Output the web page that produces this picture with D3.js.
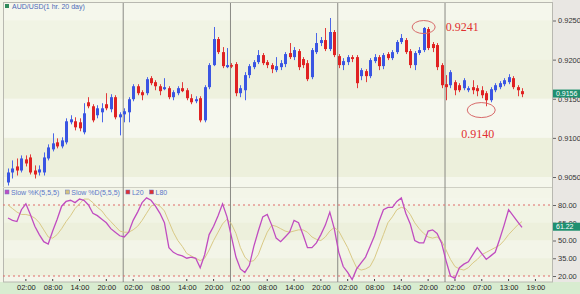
<!DOCTYPE html>
<html><head><meta charset="utf-8">
<script src="https://cdn.jsdelivr.net/npm/d3@7"></script>
<style>body{margin:0;background:#fff}svg{display:block}</style>
</head><body><svg id="c" width="580" height="294"></svg>
<script>
// ---- DATA ----
const open = [0.90430,0.90558,0.90635,0.90583,0.90725,0.90750,0.90583,0.90558,0.90558,0.90737,0.90853,0.90943,0.90891,0.90943,0.91199,0.91212,0.91199,0.91071,0.91455,0.91404,0.91289,0.91327,0.91430,0.91366,0.91520,0.91263,0.91301,0.91327,0.91494,0.91660,0.91584,0.91571,0.91763,0.91712,0.91660,0.91622,0.91635,0.91520,0.91571,0.91635,0.91609,0.91507,0.91468,0.91507,0.91224,0.91648,0.91930,0.92263,0.92096,0.91904,0.91930,0.91943,0.91571,0.91609,0.91802,0.91904,0.91968,0.92058,0.91968,0.91930,0.91866,0.91904,0.91943,0.92084,0.92032,0.92109,0.92007,0.91955,0.91776,0.92096,0.92212,0.92250,0.92135,0.92353,0.92045,0.91930,0.91968,0.92032,0.92032,0.91789,0.91853,0.91789,0.91981,0.92032,0.91917,0.92071,0.92019,0.92096,0.92225,0.92250,0.92109,0.91930,0.92084,0.92122,0.92391,0.92199,0.92186,0.91930,0.91686,0.91673,0.91712,0.91673,0.91635,0.91609,0.91648,0.91635,0.91609,0.91571,0.91481,0.91609,0.91648,0.91686,0.91712,0.91763,0.91648,0.91597];
const high = [0.90609,0.90712,0.90737,0.90776,0.90776,0.90789,0.90648,0.90648,0.90814,0.90917,0.91058,0.90994,0.91007,0.91250,0.91289,0.91263,0.91250,0.91443,0.91520,0.91430,0.91417,0.91443,0.91571,0.91558,0.91545,0.91327,0.91378,0.91520,0.91686,0.91686,0.91609,0.91776,0.91789,0.91737,0.91686,0.91763,0.91660,0.91609,0.91660,0.91712,0.91635,0.91558,0.91532,0.91532,0.91673,0.91955,0.92417,0.92289,0.92160,0.92148,0.91955,0.91968,0.91673,0.91840,0.91943,0.91994,0.92122,0.92084,0.91994,0.91955,0.92032,0.91994,0.92096,0.92212,0.92160,0.92135,0.92032,0.91994,0.92148,0.92340,0.92289,0.92404,0.92532,0.92378,0.92071,0.92019,0.92058,0.92058,0.92058,0.91891,0.91878,0.92019,0.92071,0.92058,0.92084,0.92096,0.92122,0.92250,0.92327,0.92276,0.92135,0.92109,0.92160,0.92417,0.92417,0.92225,0.92212,0.91955,0.91802,0.91866,0.91737,0.91699,0.91763,0.91660,0.91737,0.91673,0.91660,0.91597,0.91648,0.91699,0.91725,0.91763,0.91814,0.91789,0.91673,0.91635];
const low = [0.90391,0.90481,0.90519,0.90558,0.90635,0.90532,0.90481,0.90519,0.90519,0.90712,0.90827,0.90866,0.90866,0.90917,0.91173,0.91096,0.91084,0.91045,0.91378,0.91199,0.91250,0.91199,0.91353,0.91327,0.91237,0.91032,0.91199,0.91199,0.91468,0.91545,0.91481,0.91545,0.91673,0.91609,0.91545,0.91609,0.91494,0.91481,0.91545,0.91584,0.91481,0.91430,0.91443,0.91199,0.91199,0.91622,0.91917,0.92071,0.91891,0.91891,0.91891,0.91532,0.91520,0.91481,0.91763,0.91878,0.91943,0.91930,0.91891,0.91827,0.91840,0.91866,0.91904,0.92007,0.91994,0.91866,0.91891,0.91725,0.91750,0.92071,0.92173,0.92109,0.92109,0.92032,0.91891,0.91866,0.91930,0.91968,0.91635,0.91737,0.91712,0.91763,0.91955,0.91866,0.91878,0.91994,0.91994,0.92071,0.92199,0.92071,0.91891,0.91866,0.92058,0.92096,0.92122,0.92096,0.91866,0.91635,0.91481,0.91635,0.91545,0.91584,0.91609,0.91584,0.91558,0.91532,0.91507,0.91404,0.91455,0.91584,0.91622,0.91660,0.91686,0.91622,0.91532,0.91520];
const close = [0.90558,0.90609,0.90583,0.90737,0.90673,0.90558,0.90532,0.90597,0.90750,0.90878,0.90930,0.90891,0.90968,0.91212,0.91237,0.91135,0.91122,0.91314,0.91404,0.91224,0.91378,0.91378,0.91378,0.91520,0.91263,0.91301,0.91340,0.91494,0.91660,0.91571,0.91545,0.91750,0.91699,0.91660,0.91597,0.91648,0.91520,0.91584,0.91635,0.91597,0.91507,0.91455,0.91494,0.91224,0.91648,0.91930,0.92263,0.92096,0.91917,0.91930,0.91917,0.91571,0.91635,0.91802,0.91917,0.91968,0.92058,0.91955,0.91930,0.91878,0.91917,0.91955,0.92071,0.92032,0.92122,0.91904,0.91930,0.91750,0.92122,0.92212,0.92250,0.92135,0.92353,0.92058,0.91930,0.91981,0.92032,0.92007,0.91699,0.91866,0.91789,0.91994,0.92032,0.91917,0.92058,0.92019,0.92096,0.92225,0.92276,0.92096,0.91930,0.92084,0.92122,0.92404,0.92148,0.92148,0.91904,0.91673,0.91648,0.91840,0.91609,0.91609,0.91737,0.91635,0.91609,0.91597,0.91545,0.91481,0.91622,0.91673,0.91699,0.91737,0.91776,0.91648,0.91609,0.91558];
const slowK = [69,67,66,76,81,72,62,55,49,47,58,68,79,83,84,82,85,84,80,73,71,68,65,60,57,54,53,57,67,74,82,86,84,79,73,65,44,40,38,37,35,36,35,27,38,55,62,71,81,70,53,36,26,23,29,45,58,70,72,63,52,49,53,57,67,65,55,44,44,48,55,63,74,60,40,28,23,17,26,31,36,45,54,66,76,78,78,83,86,73,64,50,48,48,58,59,56,48,33,20,18,27,30,32,38,44,39,34,37,40,51,63,76,71,66,61];
const slowD = [80,77,74,72,72,71,69,65,59,53,52,55,60,66,71,77,81,85,85,82,78,75,70,66,62,58,57,57,59,62,67,73,79,81,79,75,66,57,50,45,39,37,35,33,35,42,50,57,64,68,64,56,44,36,32,33,38,48,57,63,62,60,58,57,58,59,59,57,53,51,50,53,58,61,58,51,44,35,27,25,26,28,35,45,55,65,70,76,78,77,72,65,60,56,53,52,53,50,42,34,28,26,25,27,31,34,38,40,42,44,46,50,55,59,63,66];
const priceTicks = [0.9250,0.9200,0.9150,0.9100,0.9050];
const oscTicks = [80,65,50,35,20];
const timeTickIdx = [4,10,16,22,28,34,40,46,52,58,64,70,76,82,88,94,100,106,112,118];
const timeLabels = ["02:00","08:00","14:00","20:00","02:00","08:00","14:00","20:00","02:00","08:00","14:00","20:00","02:00","08:00","14:00","20:00","02:00","07:00","13:00","19:00"];
const dayStartIdx = [26,50,74,98];
const lastPrice = 0.9156, lastK = 61.22;
const hiNote = {idx:93, price:0.9241, label:"0.9241"};
const loNote = {idx:107, price:0.9140, label:"0.9140"};
const title = "AUD/USD(1 hr.  20 day)";
const legend = [["Slow %K(5,5,5)","#c04cc0"],["Slow %D(5,5,5)","#d6c47e"],["L20","#e03030"],["L80","#e03030"]];

// ---- LAYOUT ----
const svg = d3.select("#c");
const W=580,H=294, plotL=3, plotR=552, mainT=3, mainB=187, oscT=188, oscB=282;
const font = "Liberation Sans, Arial, sans-serif";
const x = d3.scaleLinear().domain([0,115]).range([8,522]);
const y = d3.scaleLinear().domain([0.9050,0.9250]).range([177,20.5]);
const yo = d3.scaleLinear().domain([20,80]).range([276,205]);

svg.append("rect").attr("width",W).attr("height",H).attr("fill","#f3f5e8");
const bands = [[0.9300,0.9250,"#f5f7ec"],[0.9250,0.9200,"#f1f4e4"],[0.9200,0.9150,"#eef1de"],[0.9150,0.9100,"#f6f8ee"],[0.9100,0.9050,"#edf0dc"],[0.9050,0.9000,"#f5f7ec"]];
bands.forEach(b=>{
  const t=Math.max(mainT,y(b[0])), bt=Math.min(mainB,y(b[1]));
  svg.append("rect").attr("x",plotL).attr("y",t).attr("width",plotR-plotL).attr("height",bt-t).attr("fill",b[2]);
});
const oBands=[[100,80,"#f4f6ea"],[80,65,"#f1f4e4"],[65,50,"#edf0dc"],[50,35,"#f3f5e8"],[35,20,"#eef1de"],[20,0,"#f4f6ea"]];
oBands.forEach(b=>{
  const t=Math.max(oscT+10,yo(b[0])), bt=Math.min(oscB,yo(b[1]));
  svg.append("rect").attr("x",plotL).attr("y",t).attr("width",plotR-plotL).attr("height",bt-t).attr("fill",b[2]);
});
svg.append("rect").attr("x",plotR).attr("y",0).attr("width",W-plotR).attr("height",oscB).attr("fill","#e9e7e3");
svg.append("rect").attr("x",0).attr("y",oscB).attr("width",W).attr("height",H-oscB).attr("fill","#d8ecd0");
svg.append("rect").attr("x",plotL+0.5).attr("y",mainT-0.5).attr("width",plotR-plotL).attr("height",oscB-mainT+0.5).attr("fill","none").attr("stroke","#b8b8b0");
svg.append("line").attr("x1",plotL).attr("x2",plotR).attr("y1",mainB+0.5).attr("y2",mainB+0.5).attr("stroke","#cfd0c4");

dayStartIdx.forEach(i=>{
  svg.append("line").attr("x1",x(i)-1).attr("x2",x(i)-1).attr("y1",mainT).attr("y2",oscB).attr("stroke","#8a8a84").attr("stroke-width",1);
});

const g = svg.append("g");
const data = open.map((o,i)=>({i,o,h:high[i],l:low[i],c:close[i]}));
g.selectAll("line.w").data(data).join("line")
 .attr("x1",d=>Math.round(x(d.i))+0.5).attr("x2",d=>Math.round(x(d.i))+0.5)
 .attr("y1",d=>y(d.h)).attr("y2",d=>y(d.l))
 .attr("stroke",d=>d.c>=d.o?"#4a66e8":"#e23a3a").attr("stroke-width",1);
g.selectAll("rect.b").data(data).join("rect")
 .attr("x",d=>Math.round(x(d.i))-1).attr("width",3)
 .attr("y",d=>y(Math.max(d.o,d.c))).attr("height",d=>Math.max(1.5,Math.abs(y(d.o)-y(d.c))))
 .attr("fill",d=>d.c>=d.o?"#3a55e2":"#e02222");

const pa = svg.append("g").attr("transform",`translate(${plotR},0)`)
 .call(d3.axisRight(y).tickValues(priceTicks).tickFormat(d3.format(".4f")).tickSize(3).tickPadding(3));
pa.select(".domain").remove();
pa.selectAll("line").attr("stroke","#666").attr("transform","translate(1,0)");
pa.selectAll("text").attr("font-family",font).attr("font-size",7.5).attr("fill","#333");

const oa = svg.append("g").attr("transform",`translate(${plotR},0)`)
 .call(d3.axisRight(yo).tickValues(oscTicks).tickFormat(d3.format(".2f")).tickSize(3).tickPadding(3));
oa.select(".domain").remove();
oa.selectAll("line").attr("stroke","#666").attr("transform","translate(1,0)");
oa.selectAll("text").attr("font-family",font).attr("font-size",7.5).attr("fill","#333");

function valBox(yy, txt){
  svg.append("rect").attr("x",plotR+1).attr("y",yy-4.5).attr("width",W-plotR-1).attr("height",8).attr("fill","#1f8f6f");
  svg.append("text").attr("x",plotR+4).attr("y",yy+2).attr("font-family",font).attr("font-size",7).attr("fill","#fff").text(txt);
}
valBox(y(lastPrice), d3.format(".4f")(lastPrice));
valBox(yo(lastK), d3.format(".2f")(lastK));

[20,80].forEach(v=>{
  svg.append("line").attr("x1",plotL).attr("x2",plotR).attr("y1",yo(v)).attr("y2",yo(v))
   .attr("stroke","#e06a6a").attr("stroke-width",1).attr("stroke-dasharray","2,3");
});
const lineD = d3.line().x((d,i)=>x(i)).y(d=>yo(d));
svg.append("path").attr("d",lineD(slowD)).attr("fill","none").attr("stroke","#d9c985").attr("stroke-width",1);
svg.append("path").attr("d",lineD(slowK)).attr("fill","none").attr("stroke","#c04cc0").attr("stroke-width",1.3);

const ta = svg.append("g").attr("transform",`translate(0,${oscB})`)
 .call(d3.axisBottom(x).tickValues(timeTickIdx).tickFormat((d,k)=>timeLabels[k]).tickSize(0).tickPadding(3));
ta.select(".domain").remove();
ta.selectAll("text").attr("font-family",font).attr("font-size",7.5).attr("fill","#222");
timeTickIdx.forEach(i=>{
  svg.append("line").attr("x1",x(i)).attr("x2",x(i)).attr("y1",oscB-3).attr("y2",oscB-1).attr("stroke","#444");
});

svg.append("rect").attr("x",5).attr("y",4).attr("width",4).attr("height",4).attr("fill","#2f8a5a");
svg.append("text").attr("x",12).attr("y",9).attr("font-family",font).attr("font-size",7).attr("fill","#4a68b8").text(title);

let lx=5;
legend.forEach((l,k)=>{
  svg.append("rect").attr("x",lx).attr("y",oscT+2).attr("width",4).attr("height",4).attr("fill",l[1]).attr("stroke","#6a7ac8").attr("stroke-width",0.5);
  const t=svg.append("text").attr("x",lx+6).attr("y",oscT+7).attr("font-family",font).attr("font-size",7).attr("fill","#5a78c8").text(l[0]);
  lx += t.node().getComputedTextLength()+12;
});

function note(n, cx, cy, rx, ry, tx, ty){
  svg.append("ellipse").attr("cx",cx).attr("cy",cy).attr("rx",rx).attr("ry",ry).attr("fill","none").attr("stroke","#d86a6a").attr("stroke-width",1);
  svg.append("text").attr("x",tx).attr("y",ty).attr("font-family","Liberation Serif, DejaVu Serif, serif").attr("font-size",12).attr("fill","#e03030").text(n.label);
}
note(hiNote, x(hiNote.idx), y(hiNote.price)-0.5, 11.5, 6.5, x(hiNote.idx)+22, y(hiNote.price)+3);
note(loNote, x(loNote.idx)-5, y(loNote.price)+3.5, 14, 7.5, x(loNote.idx)-25, y(loNote.price)+31);
</script></body></html>
